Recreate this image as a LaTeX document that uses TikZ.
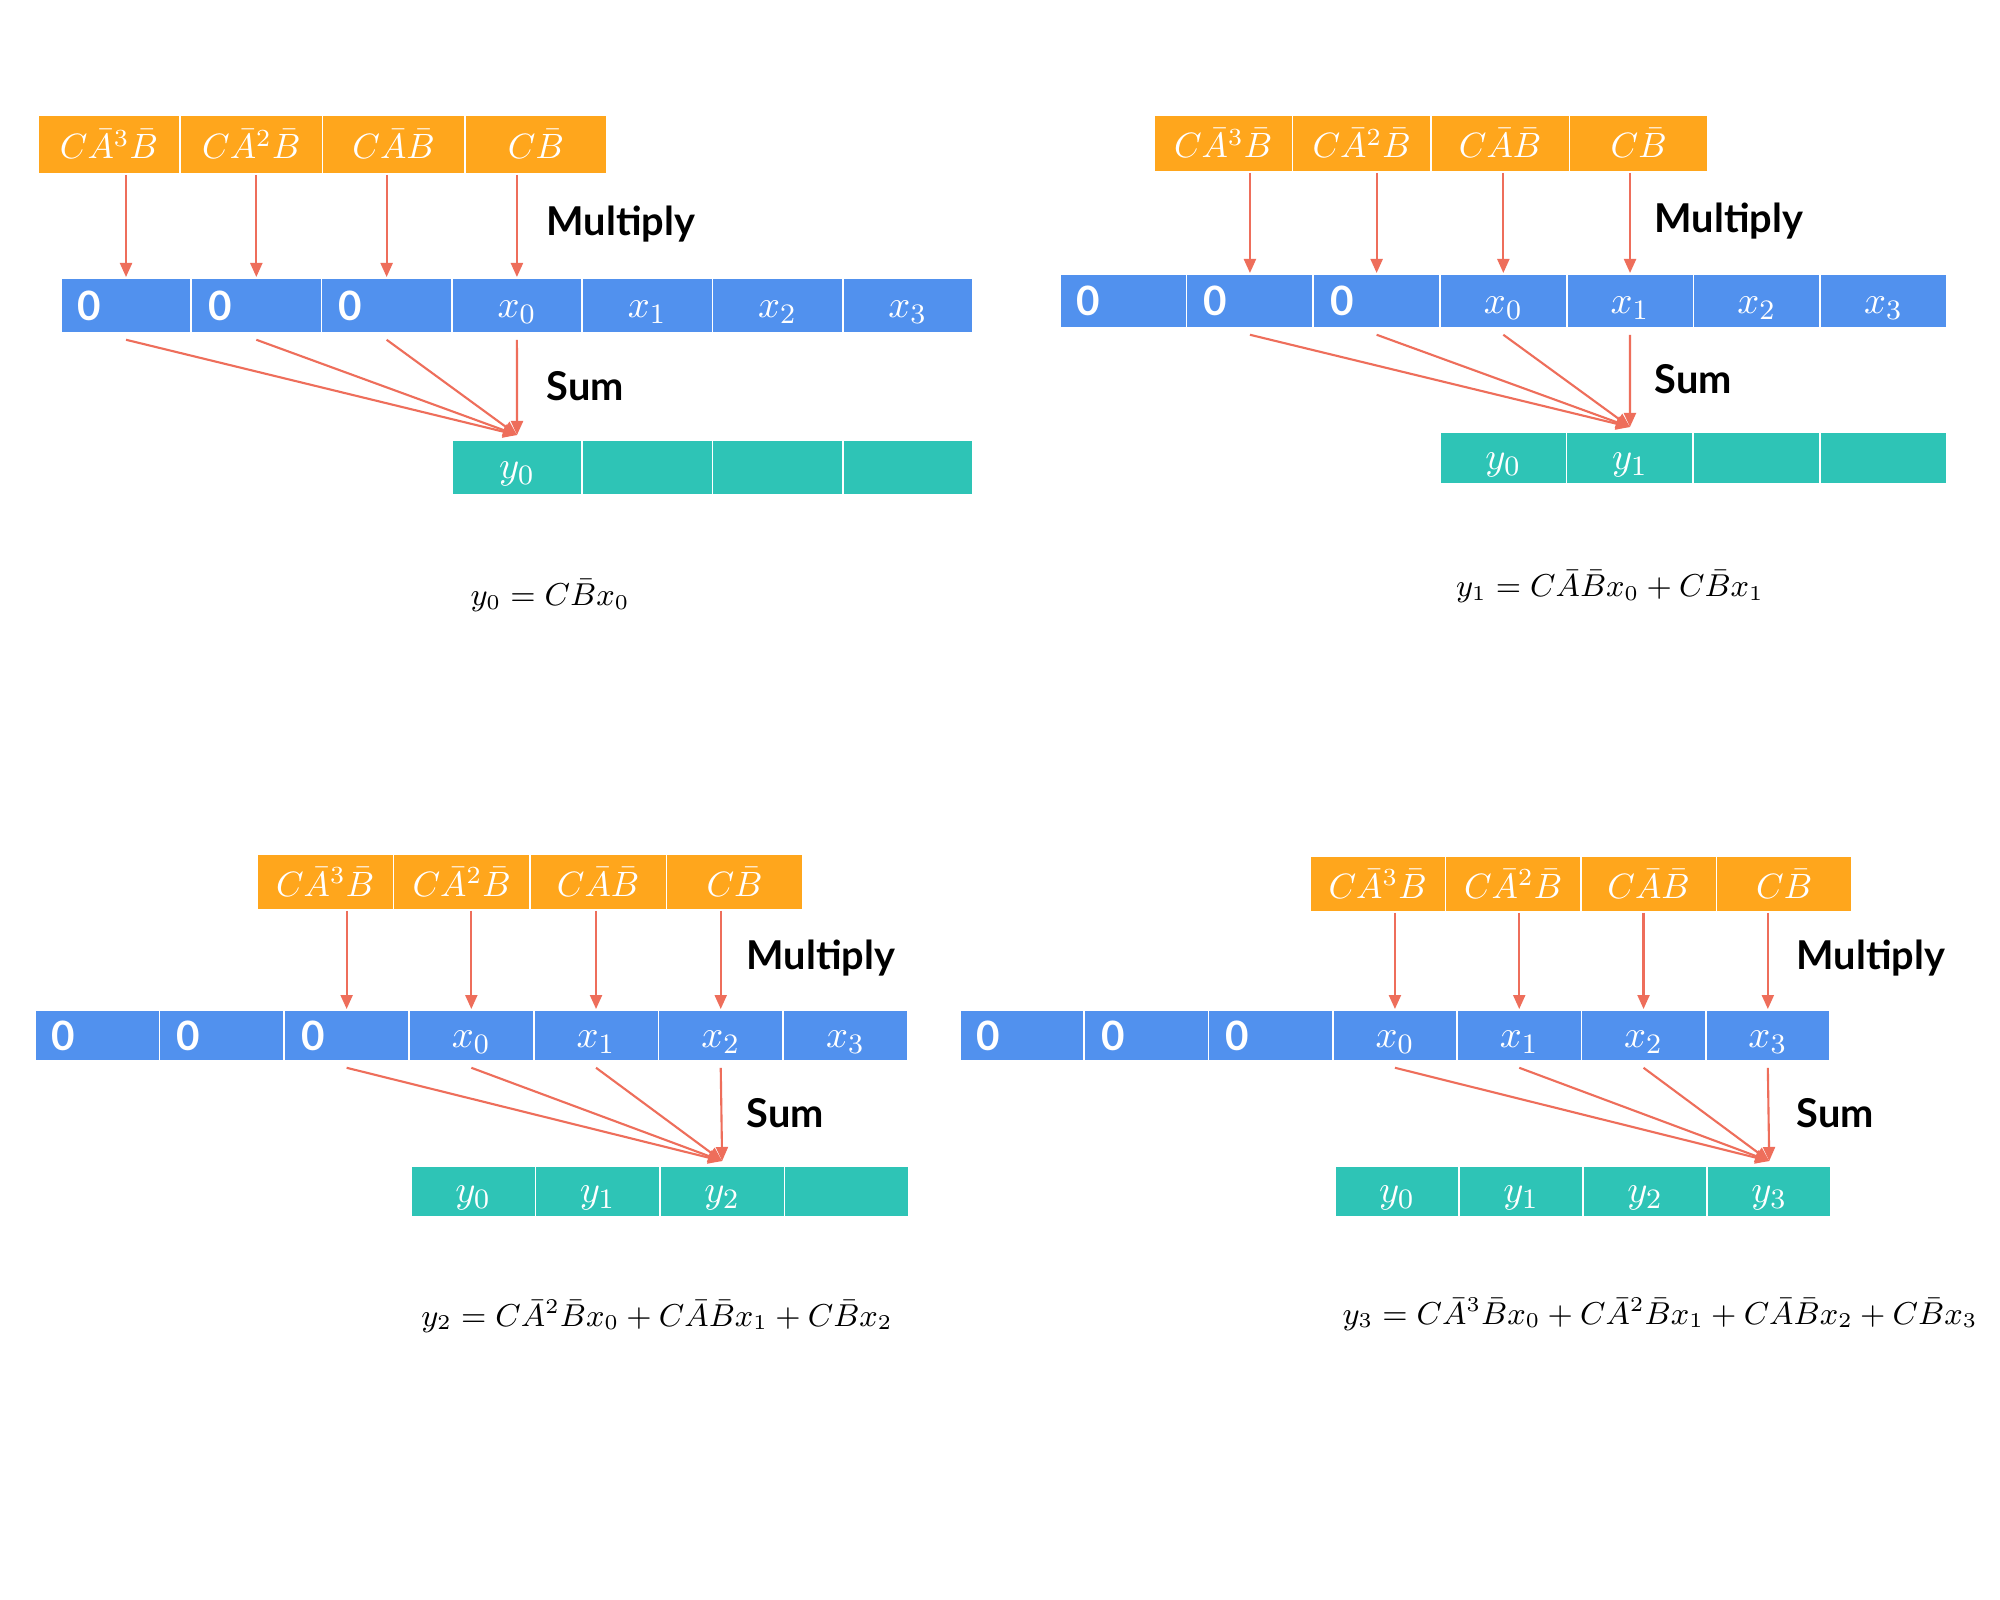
\documentclass[tikz,border=0pt]{standalone}
\usepackage{fontspec}
\newfontfamily\labfont{Lato}
\usetikzlibrary{arrows.meta}
\definecolor{corange}{HTML}{FFA61C}
\definecolor{cblue}{HTML}{5191EE}
\definecolor{cteal}{HTML}{2EC4B6}
\definecolor{carrow}{HTML}{EE6E5B}
\newcommand\dn[1]{\raisebox{-0.07cm}[\height][\depth]{#1}}
\tikzset{
  cellbase/.style={draw=white, line width=0.5pt, inner sep=0pt, anchor=north west,
    text=white, font=\fontsize{11}{13}\selectfont},
  ocell/.style={cellbase, fill=corange, font=\fontsize{10.3}{13}\selectfont},
  bcell/.style={cellbase, fill=cblue},
  tcell/.style={cellbase, fill=cteal},
  zerolab/.style={anchor=west, inner sep=0pt, text=white, font=\labfont\bfseries\fontsize{11.5}{13}\selectfont},
  oplab/.style={anchor=west, inner sep=0pt, text=black, font=\labfont\bfseries\fontsize{11.3}{14}\selectfont},
  eqlab/.style={inner sep=0pt, text=black, font=\fontsize{9.2}{12}\selectfont},
  arr/.style={draw=carrow, line width=0.6pt, -{Triangle[length=1.4mm,width=1.2mm]}}
}
% panel drawer: uses \ox \oy \ow \oh \bx \by \bw \bh \tx \ty \tw \th \tk \mx \my \sy \ex \ey \tlist \eqtext
\newcommand\drawpanel[1]{%
  \foreach \lab [count=\i from 0] in {{$C\bar{A}^3\bar{B}$},{$C\bar{A}^2\bar{B}$},{$C\bar{A}\bar{B}$},{$C\bar{B}$}}
    \node[ocell, minimum width=\ow*0.01cm, minimum height=\oh*0.01cm] (#1-o\i) at (\ox+\i*\ow,\oy) {\lab};
  \foreach \lab [count=\i from 0] in {{},{},{},{\dn{$x_0$}},{\dn{$x_1$}},{\dn{$x_2$}},{\dn{$x_3$}}}
    \node[bcell, minimum width=\bw*0.01cm, minimum height=\bh*0.01cm] (#1-b\i) at (\bx+\i*\bw,\by) {\lab};
  \foreach \i in {0,1,2}
    \node[zerolab] (#1-z\i) at ([xshift=0.17cm]#1-b\i.west) {0};
  \foreach \lab [count=\i from 0] in \tlist
    \node[tcell, minimum width=\tw*0.01cm, minimum height=\th*0.01cm] (#1-t\i) at (\tx+\i*\tw,\ty) {\lab};
  \node[oplab] (#1-mul) at (\mx,\my) {Multiply};
  \node[oplab] (#1-sum) at (\mx,\sy) {Sum};
  \node[eqlab] (#1-eq) at (\ex,\ey) {\eqtext};
  \foreach \m in {0,...,3}{
    \pgfmathtruncatemacro\j{\tk+\m}
    \draw[arr] (#1-b\j.north |- #1-o\m.south) -- (#1-b\j.north);
    \draw[arr] ([yshift=-0.06cm]#1-b\j.south) -- ([yshift=0.04cm]#1-t\tk.north);
  }
}
\begin{document}
\begin{tikzpicture}[x=0.01cm,y=-0.01cm]
\fill[white] (0,0) rectangle (2000,1600);
\useasboundingbox (0,0) rectangle (2000,1600);
% Panel A
\def\ox{37}\def\oy{114}\def\ow{142.3}\def\oh{59}
\def\bx{60}\def\by{277}\def\bw{130.3}\def\bh{55}
\def\tx{451}\def\ty{439}\def\tw{130.3}\def\th{55}\def\tk{0}
\def\mx{546}\def\my{224}\def\sy{386}
\def\ex{550}\def\ey{596}
\def\tlist{{\dn{$y_0$}},{},{},{}}
\def\eqtext{$y_0 = C\bar{B}x_0$}
\drawpanel{A}
% Panel B
\def\ox{1153}\def\oy{114}\def\ow{138.5}\def\oh{57}
\def\bx{1059}\def\by{273}\def\bw{126.7}\def\bh{54}
\def\tx{1439}\def\ty{431}\def\tw{126.7}\def\th{52}\def\tk{1}
\def\mx{1654}\def\my{221}\def\sy{379}
\def\ex{1610}\def\ey{587}
\def\tlist{{\dn{$y_0$}},{\dn{$y_1$}},{},{}}
\def\eqtext{$y_1 = C\bar{A}\bar{B}x_0 + C\bar{B}x_1$}
\drawpanel{B}
% Panel C
\def\ox{256}\def\oy{853}\def\ow{136.5}\def\oh{56}
\def\bx{34}\def\by{1009}\def\bw{124.7}\def\bh{51}
\def\tx{410}\def\ty{1165}\def\tw{124.5}\def\th{51}\def\tk{2}
\def\mx{746}\def\my{958}\def\sy{1113}
\def\ex{657}\def\ey{1316}
\def\tlist{{\dn{$y_0$}},{\dn{$y_1$}},{\dn{$y_2$}},{}}
\def\eqtext{$y_2 = C\bar{A}^2\bar{B}x_0 + C\bar{A}\bar{B}x_1 + C\bar{B}x_2$}
\drawpanel{C}
% Panel D
\def\ox{1309}\def\oy{855}\def\ow{135.5}\def\oh{56}
\def\bx{959}\def\by{1009}\def\bw{124.3}\def\bh{51}
\def\tx{1334}\def\ty{1165}\def\tw{124.1}\def\th{51}\def\tk{3}
\def\mx{1796}\def\my{958}\def\sy{1113}
\def\ex{1660}\def\ey{1314}
\def\tlist{{\dn{$y_0$}},{\dn{$y_1$}},{\dn{$y_2$}},{\dn{$y_3$}}}
\def\eqtext{$y_3 = C\bar{A}^3\bar{B}x_0 + C\bar{A}^2\bar{B}x_1 + C\bar{A}\bar{B}x_2 + C\bar{B}x_3$}
\drawpanel{D}
\end{tikzpicture}
\end{document}
